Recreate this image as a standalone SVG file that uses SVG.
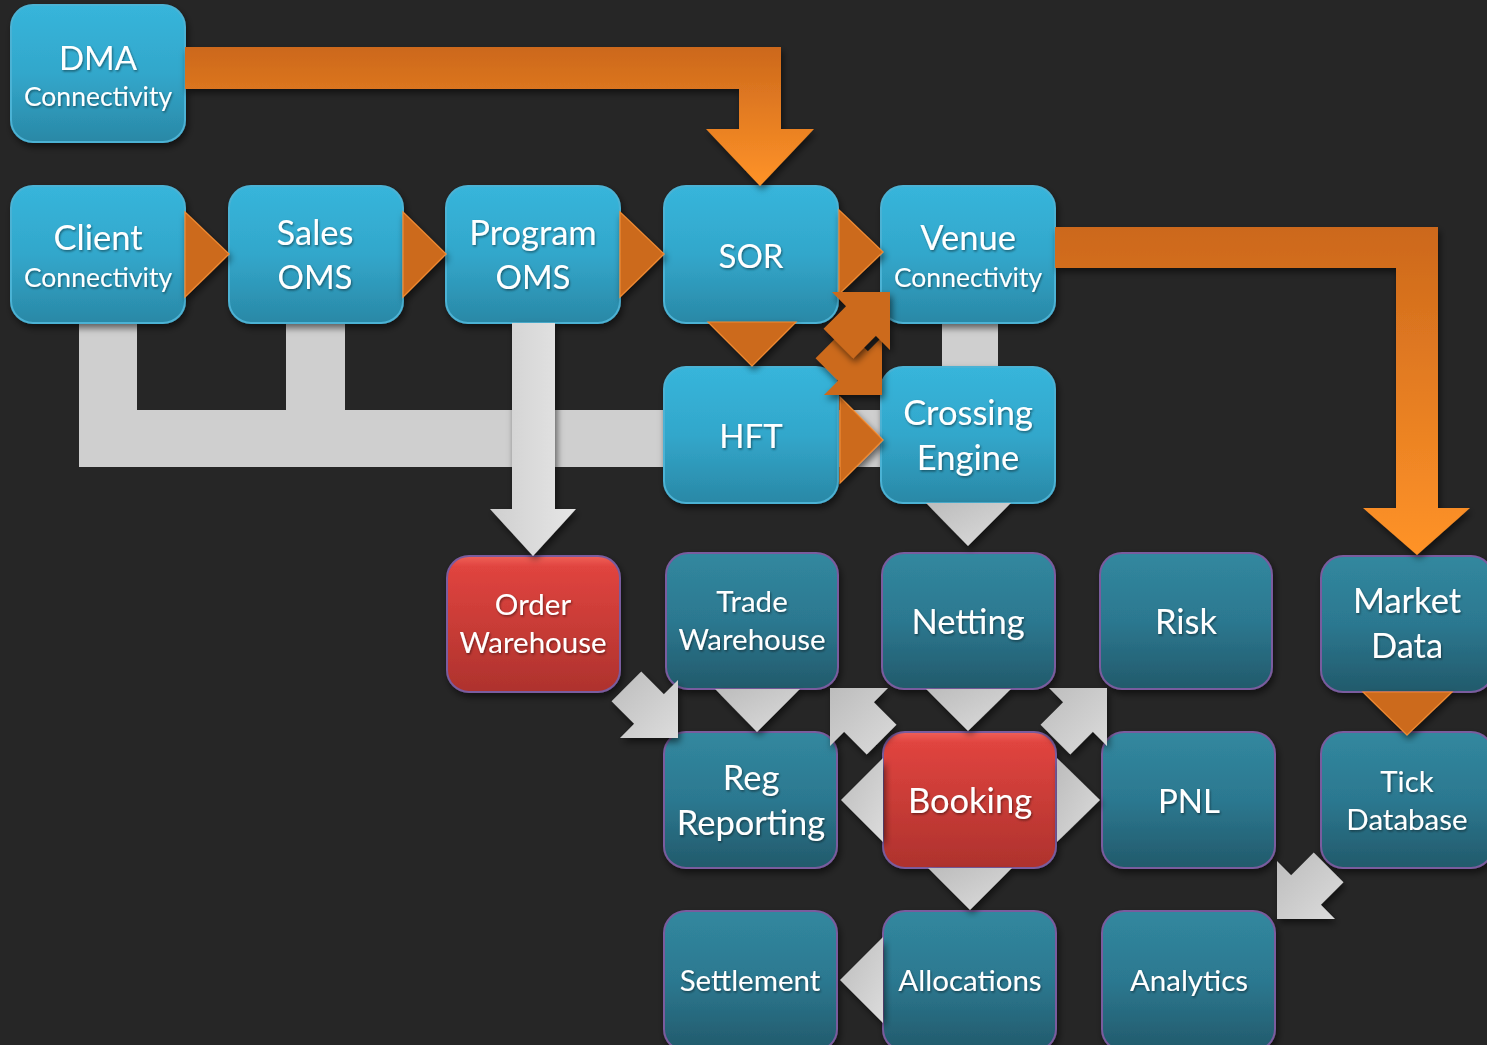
<svg xmlns="http://www.w3.org/2000/svg" width="1487" height="1045" viewBox="0 0 1487 1045">
<defs>
<linearGradient id="gBlue" x1="0" y1="0" x2="0" y2="1"><stop offset="0" stop-color="#37b5db"/><stop offset="0.5" stop-color="#32a7cb"/><stop offset="1" stop-color="#2a88a6"/></linearGradient>
<linearGradient id="gTeal" x1="0" y1="0" x2="0" y2="1"><stop offset="0" stop-color="#31889f"/><stop offset="0.5" stop-color="#2c7890"/><stop offset="1" stop-color="#225a6b"/></linearGradient>
<linearGradient id="gRed" x1="0" y1="0" x2="0" y2="1"><stop offset="0" stop-color="#f06058"/><stop offset="0.08" stop-color="#e0443f"/><stop offset="1" stop-color="#ae322d"/></linearGradient>
<linearGradient id="gOrA" gradientUnits="userSpaceOnUse" x1="0" y1="47" x2="0" y2="186"><stop offset="0" stop-color="#cc681c"/><stop offset="1" stop-color="#ff9328"/></linearGradient>
<linearGradient id="gOrB" gradientUnits="userSpaceOnUse" x1="0" y1="227" x2="0" y2="555"><stop offset="0" stop-color="#cc681c"/><stop offset="1" stop-color="#ff9328"/></linearGradient>
<linearGradient id="gGrayH" x1="0" y1="0" x2="1" y2="0"><stop offset="0" stop-color="#bdbdbd"/><stop offset="1" stop-color="#e2e2e2"/></linearGradient>
<linearGradient id="gGrayV" x1="0" y1="0" x2="1" y2="0"><stop offset="0" stop-color="#cfcfcf"/><stop offset="1" stop-color="#e6e6e6"/></linearGradient>
<linearGradient id="gGrayT" x1="0" y1="0" x2="1" y2="1"><stop offset="0" stop-color="#bcbcbc"/><stop offset="1" stop-color="#dcdcdc"/></linearGradient>
<filter id="sh" x="-20%" y="-20%" width="140%" height="140%"><feDropShadow dx="2" dy="4" stdDeviation="3.5" flood-color="#000" flood-opacity="0.55"/></filter>
<filter id="tsh" x="-10%" y="-20%" width="120%" height="140%"><feDropShadow dx="1" dy="1.5" stdDeviation="1" flood-color="#000" flood-opacity="0.45"/></filter>
</defs>
<style>
.blue{fill:url(#gBlue);stroke:#4cb2d4;stroke-width:2}
.teal{fill:url(#gTeal);stroke:#7a5c9e;stroke-width:2}
.red{fill:url(#gRed);stroke:#7a5c9e;stroke-width:2}
.node{filter:url(#sh)}
text{font-family:Lato,"Noto Sans","DejaVu Sans",sans-serif;fill:#ffffff;text-anchor:middle;filter:url(#tsh)}
.b{font-size:34.5px}
.c{font-size:33px}
.s{font-size:29.5px}
.k{font-size:26.5px}
.orT{fill:#cc6a1c;stroke:#f08a32;stroke-width:1.2;filter:url(#sh)}
.orD{fill:#cc6a1c;filter:url(#sh)}
.gT{fill:url(#gGrayT);filter:url(#sh)}
.gB{fill:#cfcfcf}
</style>
<rect x="0" y="0" width="1487" height="1045" fill="#262626"/>

<g id="connectors-back">
<rect class="gB" x="79" y="410" width="585" height="57" fill="url(#gGrayH)"/>
<rect class="gB" x="838" y="410" width="43" height="57" fill="#dcdcdc"/>
<rect class="gB" x="79" y="323" width="58" height="144" fill="#c2c2c2"/>
<rect class="gB" x="286" y="323" width="59" height="87" fill="url(#gGrayV)"/>
<rect class="gB" x="942" y="323" width="56" height="44" fill="url(#gGrayV)"/>
</g>

<g id="n-dma" class="node"><rect class="blue" x="11" y="5" width="174" height="137" rx="22"/><text class="c" x="98" y="70">DMA</text><text class="k" x="98" y="106">Connectivity</text></g>
<g id="n-client" class="node"><rect class="blue" x="11" y="186" width="174" height="137" rx="22"/><text class="b" x="98" y="250">Client</text><text class="k" x="98" y="287">Connectivity</text></g>
<g id="n-sales" class="node"><rect class="blue" x="229" y="186" width="174" height="137" rx="22"/><text class="b" x="315" y="245">Sales</text><text class="c" x="315" y="289">OMS</text></g>
<g id="n-program" class="node"><rect class="blue" x="446" y="186" width="174" height="137" rx="22"/><text class="b" x="533" y="245">Program</text><text class="c" x="533" y="289">OMS</text></g>
<g id="n-sor" class="node"><rect class="blue" x="664" y="186" width="174" height="137" rx="22"/><text class="c" x="751" y="268">SOR</text></g>
<g id="n-venue" class="node"><rect class="blue" x="881" y="186" width="174" height="137" rx="22"/><text class="b" x="968" y="250">Venue</text><text class="k" x="968" y="287">Connectivity</text></g>
<g id="n-hft" class="node"><rect class="blue" x="664" y="367" width="174" height="136" rx="22"/><text class="c" x="751" y="448">HFT</text></g>
<g id="n-crossing" class="node"><rect class="blue" x="881" y="367" width="174" height="136" rx="22"/><text class="b" x="968" y="425">Crossing</text><text class="b" x="968" y="470">Engine</text></g>

<g id="n-orderwh" class="node"><rect class="red" x="447" y="556" width="173" height="136" rx="22"/><text class="s" x="533" y="615">Order</text><text class="s" x="533" y="653">Warehouse</text></g>
<g id="n-tradewh" class="node"><rect class="teal" x="666" y="553" width="172" height="136" rx="22"/><text class="s" x="752" y="612">Trade</text><text class="s" x="752" y="650">Warehouse</text></g>
<g id="n-netting" class="node"><rect class="teal" x="882" y="553" width="173" height="136" rx="22"/><text class="b" x="968" y="634">Netting</text></g>
<g id="n-risk" class="node"><rect class="teal" x="1100" y="553" width="172" height="136" rx="22"/><text class="b" x="1186" y="634">Risk</text></g>
<g id="n-market" class="node"><rect class="teal" x="1321" y="556" width="172" height="136" rx="22"/><text class="b" x="1407" y="613">Market</text><text class="b" x="1407" y="658">Data</text></g>
<g id="n-reg" class="node"><rect class="teal" x="664" y="732" width="173" height="136" rx="22"/><text class="b" x="751" y="790">Reg</text><text class="b" x="751" y="835">Reporting</text></g>
<g id="n-booking" class="node"><rect class="red" x="883" y="732" width="173" height="136" rx="22"/><text class="b" x="970" y="813">Booking</text></g>
<g id="n-pnl" class="node"><rect class="teal" x="1102" y="732" width="173" height="136" rx="22"/><text class="c" x="1189" y="813">PNL</text></g>
<g id="n-tick" class="node"><rect class="teal" x="1321" y="732" width="172" height="136" rx="22"/><text class="s" x="1407" y="792">Tick</text><text class="s" x="1407" y="830">Database</text></g>
<g id="n-settlement" class="node"><rect class="teal" x="664" y="911" width="173" height="140" rx="22"/><text class="s" x="750" y="991">Settlement</text></g>
<g id="n-allocations" class="node"><rect class="teal" x="883" y="911" width="173" height="140" rx="22"/><text class="s" x="970" y="991">Allocations</text></g>
<g id="n-analytics" class="node"><rect class="teal" x="1102" y="911" width="173" height="140" rx="22"/><text class="s" x="1189" y="991">Analytics</text></g>

<g id="connectors">
<path d="M185,47 H781 V129 H814 L760,186 L706,129 H739 V89 H185 Z" fill="url(#gOrA)" filter="url(#sh)"/>
<path d="M1055,227 H1438 V508 H1470 L1417,555 L1363,508 H1396 V268 H1055 Z" fill="url(#gOrB)" filter="url(#sh)"/>
<polygon class="orT" points="185,212 229,254 185,297"/>
<polygon class="orT" points="403,212 446,254 403,297"/>
<polygon class="orT" points="620,212 664,254 620,297"/>
<polygon class="orT" points="839,210 883,252 839,294"/>
<polygon class="orT" points="708,322 752,366 796,322"/>
<polygon class="orT" points="840,397 883,440 840,483"/>
<polygon class="orT" points="1363,692 1407,735 1452,692"/>
<polygon class="orD" points="882,395 882,337 867.85,351.15 845.25,328.55 815.55,358.25 838.15,380.85 824,395"/>
<polygon class="orD" points="890,292 890,350 875.85,335.85 853.25,358.45 823.55,328.75 846.15,306.15 832,292"/>
<path d="M512,323 H555 V509 H576 L533,556 L490,509 H512 Z" fill="url(#gGrayV)" filter="url(#sh)"/>
<polygon class="gT" points="926,503 968,546 1011,503"/>
<polygon class="gT" points="715,689 757,732 800,689"/>
<polygon class="gT" points="926,689 968,731 1011,689"/>
<polygon class="gT" points="883,758 841,800 883,842"/>
<polygon class="gT" points="1057,758 1100,800 1057,842"/>
<polygon class="gT" points="928,868 970,910 1012,868"/>
<polygon class="gT" points="883,937 840,980 883,1023"/>
<polygon class="gT" points="678,738 678,680 663.85,694.15 641.25,671.55 611.55,701.25 634.15,723.85 620,738"/>
<polygon class="gT" points="830,688 888,688 873.85,702.15 896.45,724.75 866.75,754.45 844.15,731.85 830,746"/>
<polygon class="gT" points="1107,688 1107,746 1092.85,731.85 1070.25,754.45 1040.55,724.75 1063.15,702.15 1049,688"/>
<polygon class="gT" points="1277,919 1335,919 1320.85,904.85 1343.45,882.25 1313.75,852.55 1291.15,875.15 1277,861"/>
</g>
</svg>
